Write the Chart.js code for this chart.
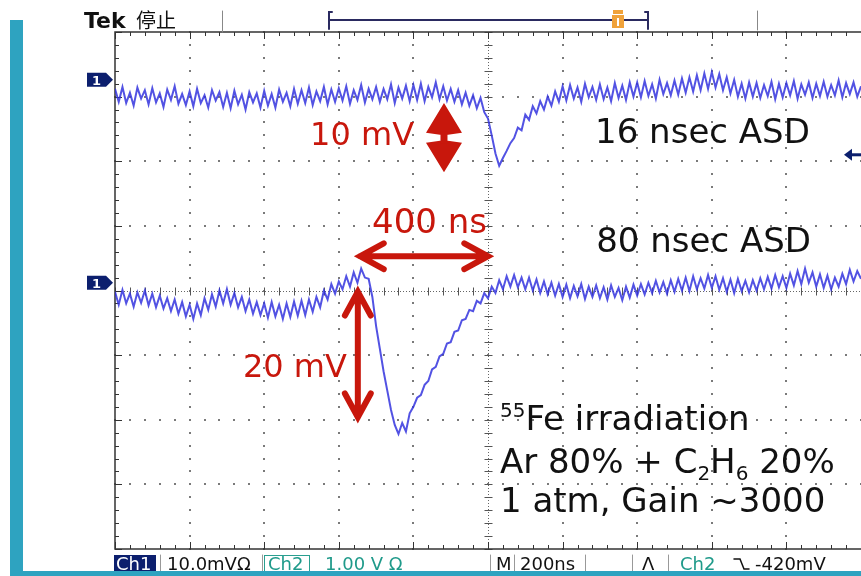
<!DOCTYPE html>
<html>
<head>
<meta charset="utf-8">
<script src="https://cdn.jsdelivr.net/npm/chart.js@4/dist/chart.umd.min.js"></script>
<style>
  body { margin: 0; background: #fff; }
  #wrap { width: 861px; height: 576px; }
</style>
</head>
<body>
<div id="wrap"><canvas id="scope" width="861" height="576"></canvas></div>
<script>
// scope settings (M 200ns, Ch1 10.0mV per division)
const nsPerDiv = 200;
const mvPerDiv = 10;
const sampleNs = 10;
const timeRange = [0, 2000];
const voltRange = [-40, 40];

// Ch1 trace with the 16 nsec ASD, in mV on screen (one value every 10 ns)
const traceFast = [
  31.2, 29.2, 31.5, 29.0, 30.6, 28.6, 31.4, 29.7, 31.0, 28.8,
  31.3, 29.1, 30.5, 28.4, 31.1, 29.5, 31.6, 28.9, 30.4, 28.7,
  30.8, 28.5, 31.2, 29.0, 30.2, 28.3, 31.0, 29.4, 30.7, 28.4,
  30.6, 28.2, 30.9, 28.8, 30.3, 28.0, 30.7, 29.1, 30.5, 28.3,
  30.9, 28.6, 30.4, 28.3, 31.1, 29.2, 30.6, 28.5, 31.2, 28.9,
  31.0, 29.0, 31.4, 28.7, 30.8, 29.3, 31.5, 28.8, 31.1, 29.2,
  31.3, 29.4, 31.6, 28.9, 31.0, 29.5, 31.8, 29.1, 31.2, 29.6,
  31.5, 29.2, 31.2, 29.6, 31.9, 29.0, 31.4, 29.7, 31.7, 29.3,
  31.8, 29.5, 32.0, 29.3, 31.5, 29.9, 32.2, 29.6, 31.6, 29.4,
  31.2, 29.2, 31.0, 28.8, 30.6, 28.6, 30.2, 28.2, 29.8, 27.6,
  26.6, 24.0, 21.2, 19.3, 20.5, 21.6, 22.8, 23.6, 25.2, 24.8,
  27.2, 26.4, 28.5, 27.4, 29.3, 28.0, 30.0, 28.6, 30.8, 29.2,
  31.6, 29.4, 31.8, 29.7, 31.4, 29.2, 32.0, 29.9, 31.5, 29.5,
  31.9, 29.6, 31.4, 29.3, 32.1, 29.8, 31.7, 29.5, 32.2, 30.0,
  32.2, 29.9, 32.4, 30.1, 31.9, 29.7, 32.6, 30.4, 32.1, 30.2,
  32.5, 30.3, 32.8, 30.6, 33.0, 30.8, 33.3, 31.0, 33.6, 31.2,
  33.8, 31.4, 33.5, 31.0, 33.0, 30.5, 32.6, 30.0, 32.0, 29.7,
  32.2, 30.0, 32.1, 29.8, 31.8, 30.1, 32.3, 29.6, 32.0, 29.9,
  32.1, 30.2, 32.4, 29.7, 31.9, 30.3, 32.2, 29.8, 32.0, 30.1,
  32.3, 30.0, 31.8, 30.2, 32.5, 29.9, 32.1, 30.4, 32.2, 30.0,
  31.6
];

// Ch1 trace with the 80 nsec ASD, in mV on screen
const traceSlow = [
  -0.2, -2.2, 0.1, -2.0, -0.5, -2.5, -0.3, -1.9, 0.0, -2.3,
  -0.5, -2.6, -0.8, -2.8, -1.2, -3.2, -1.4, -3.6, -1.8, -4.0,
  -2.2, -4.4, -2.0, -3.8, -1.2, -3.0, -0.6, -2.5, 0.0, -2.0,
  0.2, -2.2, -0.4, -2.6, -1.0, -3.2, -1.4, -3.6, -1.8, -3.8,
  -2.0, -4.2, -1.8, -4.0, -2.2, -4.4, -2.0, -4.1, -1.7, -3.9,
  -1.6, -3.8, -1.4, -3.3, -1.0, -2.6, 0.0, -1.4, 1.0, -0.5,
  1.4, 0.2, 2.2, 0.6, 2.8, 1.2, 3.4, 2.0, 1.8, -1.0,
  -5.5, -9.0, -12.5, -15.5, -18.5, -20.8, -22.2, -20.5, -21.8, -19.0,
  -18.0, -16.6, -16.2, -14.6, -14.0, -12.2, -11.8, -10.2, -9.8, -8.2,
  -8.0, -6.4, -6.2, -4.6, -4.4, -3.0, -3.2, -1.6, -2.0, -0.4,
  -1.2, 0.6, -0.4, 1.6, 0.2, 2.2, 0.6, 2.4, 0.5, 2.0,
  0.2, 2.0, 0.0, 1.7, -0.4, 1.4, -0.6, 1.2, -0.8, 1.0,
  -1.0, 0.9, -1.2, 0.7, -0.9, 1.0, -1.3, 0.6, -1.0, 0.8,
  -1.2, 0.5, -1.4, 0.8, -1.0, 0.4, -1.5, 0.6, -1.1, 0.9,
  -0.8, 1.0, -0.6, 1.2, -0.4, 1.5, -0.3, 1.3, -0.5, 1.6,
  -0.2, 1.8, 0.0, 2.0, -0.1, 2.2, 0.2, 1.9, 0.3, 2.4,
  0.4, 2.2, 0.1, 1.9, -0.2, 1.7, -0.4, 1.8, -0.1, 1.5,
  -0.3, 1.6, 0.0, 1.9, 0.2, 2.1, 0.3, 2.4, 0.5, 2.2,
  0.4, 2.6, 0.8, 3.0, 1.0, 3.4, 1.2, 2.8, 0.6, 2.5,
  0.4, 2.3, 0.2, 2.0, 0.6, 2.6, 1.0, 3.2, 1.4, 3.0,
  1.8
];

// channel ground markers and trigger level, in mV
const groundMarks = [32.6, 1.2];
const triggerLevel = 21.0;

// red measuring arrows: [time, mV] -> [time, mV]
const arrow10mV = [[882, 29.0], [882, 18.3]];
const arrow400ns = [[657, 5.3], [1000, 5.3]];
const arrow20mV = [[651, -0.2], [651, -19.6]];

// labels placed on the screen: time, mV (baseline)
const redLabels = [
  { text: '10 mV', t: 523, v: 22.5, size: 32 },
  { text: '400 ns', t: 689, v: 8.9, size: 34 },
  { text: '20 mV', t: 343, v: -13.4, size: 32 }
];
const blackLabels = [
  { text: '16 nsec ASD', t: 1287, v: 22.8 },
  { text: '80 nsec ASD', t: 1290, v: 6.0 }
];
const noteTime = 1032;
const noteRows = [-21.6, -28.2, -34.3];

const timeNs = traceFast.map((v, i) => i * sampleNs);
const toPoints = arr => arr.map((v, i) => ({ x: timeNs[i], y: v }));

const RED = '#c8170c';
const NAVY = '#0c1f6e';
const TEAL = '#2ea3c0';
const SANS = '"DejaVu Sans", sans-serif';

// graticule of the scope: dotted divisions, centre cross, ticked border
const graticule = {
  id: 'graticule',
  beforeDatasetsDraw(chart) {
    const { ctx, chartArea: a, scales: { x, y } } = chart;
    const minorT = nsPerDiv / 5, minorV = mvPerDiv / 5;
    ctx.save();
    ctx.fillStyle = '#7a7a7a';
    for (let t = timeRange[0] + nsPerDiv; t < timeRange[1]; t += nsPerDiv) {
      if (t === 1000) continue;
      const px = Math.round(x.getPixelForValue(t));
      for (let v = voltRange[0]; v <= voltRange[1]; v += minorV) {
        ctx.fillRect(px - 1, Math.round(y.getPixelForValue(v)) - 1, 2, 2);
      }
    }
    for (let v = voltRange[0] + mvPerDiv; v < voltRange[1]; v += mvPerDiv) {
      if (v === 0) continue;
      const py = Math.round(y.getPixelForValue(v));
      for (let t = timeRange[0]; t <= timeRange[1]; t += minorT) {
        ctx.fillRect(Math.round(x.getPixelForValue(t)) - 1, py - 1, 2, 2);
      }
    }
    // centre cross
    const cx = Math.round(x.getPixelForValue(1000)) + 0.5;
    const cy = Math.round(y.getPixelForValue(0)) + 0.5;
    ctx.fillStyle = '#666';
    for (let py = a.top; py < a.bottom; py += 3) ctx.fillRect(cx - 0.5, py, 1, 1);
    for (let px = a.left; px < a.right; px += 3) ctx.fillRect(px, cy - 0.5, 1, 1);
    ctx.strokeStyle = '#555';
    ctx.lineWidth = 1;
    ctx.beginPath();
    for (let v = voltRange[0]; v <= voltRange[1]; v += minorV) {
      const py = Math.round(y.getPixelForValue(v)) + 0.5;
      ctx.moveTo(cx - 4, py); ctx.lineTo(cx + 4, py);
    }
    for (let t = timeRange[0]; t <= timeRange[1]; t += minorT) {
      const px = Math.round(x.getPixelForValue(t)) + 0.5;
      ctx.moveTo(px, cy - 4); ctx.lineTo(px, cy + 4);
    }
    ctx.stroke();
    // border with ticks
    ctx.strokeStyle = '#333';
    ctx.lineWidth = 1.5;
    ctx.strokeRect(a.left, a.top, a.right - a.left + 2, a.bottom - a.top);
    ctx.lineWidth = 1;
    ctx.beginPath();
    for (let v = voltRange[0]; v <= voltRange[1]; v += minorV) {
      const py = Math.round(y.getPixelForValue(v)) + 0.5;
      const len = (v % mvPerDiv === 0) ? 7 : 4;
      ctx.moveTo(a.left, py); ctx.lineTo(a.left + len, py);
    }
    for (let t = timeRange[0]; t <= timeRange[1]; t += minorT) {
      const px = Math.round(x.getPixelForValue(t)) + 0.5;
      const len = (t % nsPerDiv === 0) ? 7 : 4;
      ctx.moveTo(px, a.top); ctx.lineTo(px, a.top + len);
      ctx.moveTo(px, a.bottom); ctx.lineTo(px, a.bottom - len);
    }
    ctx.stroke();
    ctx.restore();
  }
};

function chevronArrow(ctx, x1, y1, x2, y2) {
  const ang = Math.atan2(y2 - y1, x2 - x1);
  const len = 27, spread = 0.5;
  ctx.beginPath();
  ctx.moveTo(x1, y1); ctx.lineTo(x2, y2);
  [[x1, y1, ang], [x2, y2, ang + Math.PI]].forEach(([px, py, a]) => {
    ctx.moveTo(px + len * Math.cos(a - spread), py + len * Math.sin(a - spread));
    ctx.lineTo(px, py);
    ctx.lineTo(px + len * Math.cos(a + spread), py + len * Math.sin(a + spread));
  });
  ctx.stroke();
}

function drawRuns(ctx, x, y, runs) {
  runs.forEach(r => {
    ctx.font = r.font;
    ctx.fillText(r.text, x, y + (r.dy || 0));
    x += ctx.measureText(r.text).width;
  });
}

// arrows, notes and the scope read-outs around the screen
const overlay = {
  id: 'overlay',
  afterDraw(chart) {
    const { ctx, chartArea: a, scales: { x, y } } = chart;
    ctx.save();
    ctx.textBaseline = 'alphabetic';

    // 10 mV arrow, filled heads
    const ax = x.getPixelForValue(arrow10mV[0][0]);
    const top = y.getPixelForValue(arrow10mV[0][1]);
    const bot = y.getPixelForValue(arrow10mV[1][1]);
    const mid = (top + bot) / 2;
    ctx.fillStyle = RED;
    ctx.beginPath();
    ctx.moveTo(ax, top); ctx.lineTo(ax + 18, mid - 5); ctx.lineTo(ax + 4, mid - 3);
    ctx.lineTo(ax - 4, mid - 3); ctx.lineTo(ax - 18, mid - 5); ctx.closePath();
    ctx.moveTo(ax, bot); ctx.lineTo(ax + 18, mid + 5); ctx.lineTo(ax + 4, mid + 3);
    ctx.lineTo(ax - 4, mid + 3); ctx.lineTo(ax - 18, mid + 5); ctx.closePath();
    ctx.fill();
    ctx.fillRect(ax - 3.5, mid - 6, 7, 12);

    // open chevron arrows
    ctx.strokeStyle = RED;
    ctx.lineWidth = 6;
    ctx.lineCap = 'round';
    ctx.lineJoin = 'miter';
    [arrow400ns, arrow20mV].forEach(([p, q]) => {
      chevronArrow(ctx, x.getPixelForValue(p[0]), y.getPixelForValue(p[1]),
        x.getPixelForValue(q[0]), y.getPixelForValue(q[1]));
    });

    redLabels.forEach(l => {
      ctx.font = l.size + 'px ' + SANS;
      ctx.fillText(l.text, x.getPixelForValue(l.t), y.getPixelForValue(l.v));
    });
    ctx.fillStyle = '#111';
    blackLabels.forEach(l => {
      ctx.font = '34px ' + SANS;
      ctx.fillText(l.text, x.getPixelForValue(l.t), y.getPixelForValue(l.v));
    });
    const big = '34px ' + SANS, small = '20px ' + SANS;
    const nx = x.getPixelForValue(noteTime);
    drawRuns(ctx, nx, y.getPixelForValue(noteRows[0]), [
      { text: '55', font: small, dy: -13 }, { text: 'Fe irradiation', font: big }]);
    drawRuns(ctx, nx, y.getPixelForValue(noteRows[1]), [
      { text: 'Ar 80% + C', font: big }, { text: '2', font: small, dy: 7 },
      { text: 'H', font: big }, { text: '6', font: small, dy: 7 }, { text: ' 20%', font: big }]);
    drawRuns(ctx, nx, y.getPixelForValue(noteRows[2]), [
      { text: '1 atm, Gain ~3000', font: big }]);

    // ground markers "1"
    ctx.fillStyle = NAVY;
    groundMarks.forEach(v => {
      const py = y.getPixelForValue(v);
      ctx.beginPath();
      ctx.moveTo(87, py - 7); ctx.lineTo(106, py - 7); ctx.lineTo(113, py);
      ctx.lineTo(106, py + 7); ctx.lineTo(87, py + 7); ctx.closePath();
      ctx.fill();
    });
    ctx.fillStyle = '#fff';
    ctx.font = 'bold 13px ' + SANS;
    groundMarks.forEach(v => ctx.fillText('1', 92, y.getPixelForValue(v) + 5));

    // trigger level arrow on the right edge
    const ty = y.getPixelForValue(triggerLevel);
    ctx.fillStyle = NAVY;
    ctx.beginPath();
    ctx.moveTo(844, ty); ctx.lineTo(852, ty - 6); ctx.lineTo(852, ty + 6); ctx.closePath();
    ctx.fill();
    ctx.fillRect(850, ty - 1.5, 11, 3);

    // header: Tek 停止 and trigger position bar
    ctx.fillStyle = '#111';
    ctx.font = 'bold 22px ' + SANS;
    ctx.fillText('Tek', 84, 28);
    ctx.font = '20px "Noto Sans CJK SC", sans-serif';
    ctx.fillText('停止', 136, 28);
    ctx.strokeStyle = '#888';
    ctx.lineWidth = 1;
    ctx.beginPath();
    ctx.moveTo(222.5, 11); ctx.lineTo(222.5, 32);
    ctx.moveTo(757.5, 11); ctx.lineTo(757.5, 30);
    ctx.stroke();
    ctx.strokeStyle = '#2a2a60';
    ctx.lineWidth = 2;
    ctx.beginPath();
    ctx.moveTo(329, 20); ctx.lineTo(648, 20);
    ctx.moveTo(332, 12); ctx.lineTo(329, 12); ctx.lineTo(329, 29);
    ctx.moveTo(645, 12); ctx.lineTo(648, 12); ctx.lineTo(648, 29);
    ctx.stroke();
    ctx.fillStyle = '#f0a23a';
    ctx.fillRect(613, 10, 10, 4);
    ctx.fillRect(612, 15, 12, 13);
    ctx.fillStyle = '#fff';
    ctx.fillRect(617, 18, 2, 8);

    // status line under the screen
    const sy = 570;
    ctx.fillStyle = NAVY;
    ctx.fillRect(114, 555, 42, 17);
    ctx.font = '18px ' + SANS;
    ctx.fillStyle = '#fff';
    ctx.fillText('Ch1', 116, sy);
    ctx.fillStyle = '#111';
    ctx.fillText('10.0mVΩ', 167, sy);
    ctx.strokeStyle = '#2a9f90';
    ctx.lineWidth = 1;
    ctx.strokeRect(264.5, 555.5, 45, 17);
    ctx.fillStyle = '#1f9a8a';
    ctx.fillText('Ch2', 268, sy);
    ctx.fillText('1.00 V Ω', 325, sy);
    ctx.fillStyle = '#111';
    ctx.fillText('M', 496, sy);
    ctx.fillText('200ns', 520, sy);
    ctx.fillText('Λ', 642, sy);
    ctx.fillStyle = '#1f9a8a';
    ctx.fillText('Ch2', 680, sy);
    // falling-edge trigger symbol
    ctx.strokeStyle = '#111';
    ctx.lineWidth = 1.5;
    ctx.beginPath();
    ctx.moveTo(734, 559); ctx.lineTo(740, 559); ctx.lineTo(744, 569); ctx.lineTo(749, 569);
    ctx.stroke();
    ctx.fillStyle = '#111';
    ctx.fillText('-420mV', 755, sy);
    ctx.strokeStyle = '#999';
    ctx.lineWidth = 1;
    ctx.beginPath();
    [160.5, 262.5, 490.5, 514.5, 585.5, 632.5, 668.5].forEach(px => {
      ctx.moveTo(px, 555); ctx.lineTo(px, 571);
    });
    ctx.stroke();

    // teal slide frame
    ctx.fillStyle = TEAL;
    ctx.fillRect(10, 20, 13, 556);
    ctx.fillRect(10, 571, 851, 5);
    ctx.restore();
  }
};

const traceStyle = {
  borderColor: 'rgba(52, 52, 222, 0.85)',
  borderWidth: 2,
  pointRadius: 0,
  tension: 0,
  fill: false
};

new Chart(document.getElementById('scope'), {
  type: 'line',
  data: {
    datasets: [
      Object.assign({ label: '16 nsec ASD', data: toPoints(traceFast) }, traceStyle),
      Object.assign({ label: '80 nsec ASD', data: toPoints(traceSlow) }, traceStyle)
    ]
  },
  options: {
    responsive: false,
    animation: false,
    devicePixelRatio: 1,
    layout: { padding: { left: 115, top: 32, right: 0, bottom: 27 } },
    scales: {
      x: { type: 'linear', min: timeRange[0], max: timeRange[1], display: false },
      y: { type: 'linear', min: voltRange[0], max: voltRange[1], display: false }
    },
    plugins: {
      legend: { display: false },
      tooltip: { enabled: false }
    }
  },
  plugins: [graticule, overlay]
});
</script>
</body>
</html>
